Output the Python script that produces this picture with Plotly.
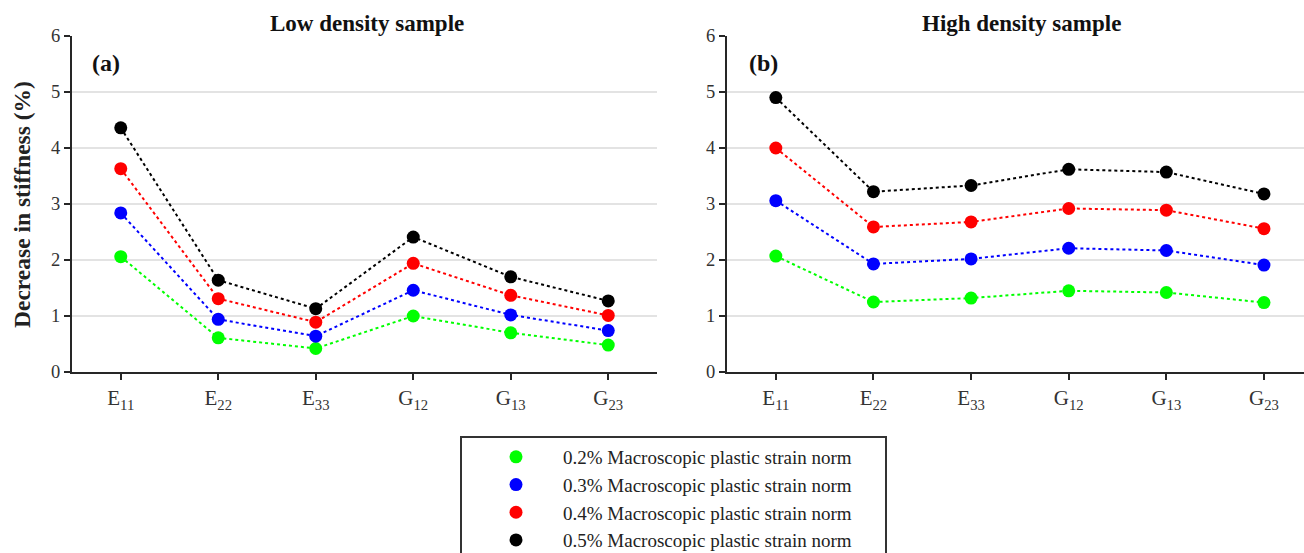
import plotly.graph_objects as go

categories = ["E<sub>11</sub>", "E<sub>22</sub>", "E<sub>33</sub>", "G<sub>12</sub>", "G<sub>13</sub>", "G<sub>23</sub>"]
series_names = ["0.2% Macroscopic plastic strain norm", "0.3% Macroscopic plastic strain norm",
                "0.4% Macroscopic plastic strain norm", "0.5% Macroscopic plastic strain norm"]
colors = ["#00ff00", "#0000ff", "#ff0000", "#000000"]

low_02 = [2.06, 0.61, 0.42, 1.00, 0.70, 0.48]
low_03 = [2.84, 0.94, 0.64, 1.46, 1.02, 0.74]
low_04 = [3.63, 1.31, 0.89, 1.94, 1.37, 1.01]
low_05 = [4.36, 1.64, 1.13, 2.41, 1.70, 1.27]

high_02 = [2.07, 1.25, 1.32, 1.45, 1.42, 1.24]
high_03 = [3.06, 1.93, 2.02, 2.21, 2.17, 1.91]
high_04 = [4.00, 2.59, 2.68, 2.92, 2.89, 2.56]
high_05 = [4.90, 3.22, 3.33, 3.62, 3.57, 3.18]

y_ticks = [0, 1, 2, 3, 4, 5, 6]

low = [low_02, low_03, low_04, low_05]
high = [high_02, high_03, high_04, high_05]

FONT = "Liberation Serif"
fig = go.Figure()
xi = list(range(len(categories)))

for vals, c in zip(low, colors):
    fig.add_trace(go.Scatter(x=xi, y=vals, mode="lines+markers", xaxis="x", yaxis="y",
                             line=dict(color=c, width=2, dash="dot"),
                             marker=dict(color=c, size=13), showlegend=False))
for vals, c in zip(high, colors):
    fig.add_trace(go.Scatter(x=xi, y=vals, mode="lines+markers", xaxis="x2", yaxis="y2",
                             line=dict(color=c, width=2, dash="dot"),
                             marker=dict(color=c, size=13), showlegend=False))
for i, (name, c) in enumerate(zip(series_names, colors)):
    fig.add_trace(go.Scatter(x=[None], y=[None], mode="markers", name=name, legendgroup=f"g{i}",
                             marker=dict(color=c, size=13), xaxis="x", yaxis="y"))

W, H = 1304, 553
L, R, T, B = 72, 0, 36, 181
pw = W - L - R
ph = H - T - B

def px(x):
    return (x - L) / pw

def py(y):
    return (H - B - y) / ph

axis_common = dict(showline=True, linecolor="#262626", linewidth=2, ticks="outside",
                   ticklen=6, tickwidth=2, tickcolor="#262626", zeroline=False)
xfont = dict(family=FONT, size=21, color="#333333")
yfont = dict(family=FONT, size=18.5, color="#333333")

fig.update_layout(
    width=W, height=H,
    margin=dict(l=L, r=R, t=T, b=B),
    paper_bgcolor="white", plot_bgcolor="white",
    font=dict(family=FONT, color="#222222"),
    xaxis=dict(domain=[0, px(657)], range=[-0.5, 5.5], tickvals=xi, ticktext=categories,
               showgrid=False, anchor="y", tickfont=xfont, **axis_common),
    yaxis=dict(range=[0, 6], tickvals=y_ticks, showgrid=True, gridcolor="#e3e3e3", gridwidth=2,
               anchor="x", tickfont=yfont, **axis_common),
    xaxis2=dict(domain=[px(727), 1], range=[-0.5, 5.41], tickvals=xi, ticktext=categories,
                showgrid=False, anchor="y2", tickfont=xfont, **axis_common),
    yaxis2=dict(range=[0, 6], tickvals=y_ticks, showgrid=True, gridcolor="#e3e3e3", gridwidth=2,
                anchor="x2", tickfont=yfont, **axis_common),
    showlegend=True,
    legend=dict(x=px(469), xref="paper", y=1 - 438 / H, yref="container",
                xanchor="left", yanchor="top",
                font=dict(family=FONT, size=19, color="#222222"),
                itemwidth=84, tracegroupgap=0, bgcolor="rgba(0,0,0,0)", borderwidth=0),
)

fig.add_shape(type="rect", xref="paper", yref="paper",
              x0=px(461), x1=px(886), y0=py(437), y1=py(565),
              line=dict(color="#333333", width=2), fillcolor="rgba(0,0,0,0)")

fig.add_annotation(text="<b>Low density sample</b>", xref="paper", yref="paper",
                   x=px(367), y=py(24), showarrow=False, xanchor="center", yanchor="middle",
                   font=dict(family=FONT, size=23, color="#111111"))
fig.add_annotation(text="<b>High density sample</b>", xref="paper", yref="paper",
                   x=px(1021), y=py(24), showarrow=False, xanchor="center", yanchor="middle",
                   font=dict(family=FONT, size=23, color="#111111"))
fig.add_annotation(text="<b>(a)</b>", xref="paper", yref="paper",
                   x=px(106), y=py(63), showarrow=False, xanchor="center", yanchor="middle",
                   font=dict(family=FONT, size=24, color="#111111"))
fig.add_annotation(text="<b>(b)</b>", xref="paper", yref="paper",
                   x=px(763), y=py(63), showarrow=False, xanchor="center", yanchor="middle",
                   font=dict(family=FONT, size=24, color="#111111"))
fig.add_annotation(text="<b>Decrease in stiffness (%)</b>", xref="paper", yref="paper",
                   x=px(22), y=py(205), showarrow=False, textangle=-90,
                   xanchor="center", yanchor="middle",
                   font=dict(family=FONT, size=23.5, color="#222222"))

post = ("document.body.style.margin='0';document.body.style.overflow='hidden';"
        "var gd=document.getElementById('{plot_id}');"
        "Plotly.relayout(gd,{width:1304,height:553});")
fig.write_html("out.html", post_script=post, config={"displayModeBar": False})
